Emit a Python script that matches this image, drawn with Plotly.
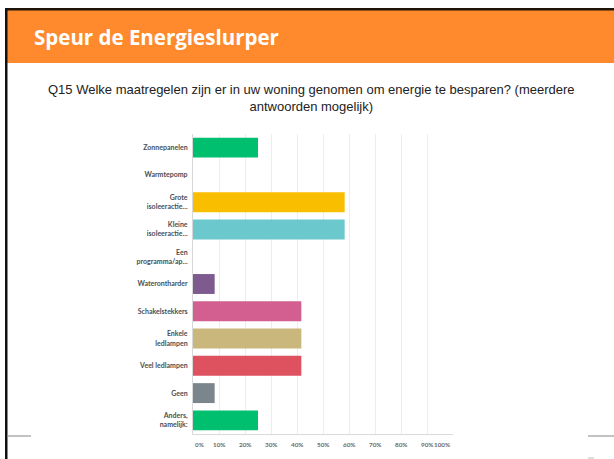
import plotly.graph_objects as go

categories = ["Zonnepanelen", "Warmtepomp", "Grote<br>isoleeractie...", "Kleine<br>isoleeractie...",
              "Een<br>programma/ap...", "Waterontharder", "Schakelstekkers", "Enkele<br>ledlampen",
              "Veel ledlampen", "Geen", "Anders,<br>namelijk:"]
values = [25.0, 0.0, 58.33, 58.33, 0.0, 8.33, 41.67, 41.67, 41.67, 8.33, 25.0]
colors = ["#00BF6F", "#F05B24", "#F9BE00", "#6BC8CD", "#FF8B4F", "#7D5B8F",
          "#D25F90", "#C9B77B", "#DE5260", "#7B868C", "#00BF6F"]
tick_vals = [0, 10, 20, 30, 40, 50, 60, 70, 80, 90, 100]
tick_text = ["0%", "10%", "20%", "30%", "40%", "50%", "60%", "70%", "80%", "90%", "100%"]
header_title = "Speur de Energieslurper"
question = "Q15 Welke maatregelen zijn er in uw woning genomen om energie te besparen? (meerdere<br>antwoorden mogelijk)"

W, H = 614, 459
L, R, T, B = 193, 453, 134, 434

def px(x):
    return (x - L) / (R - L)

def py(y):
    return (B - y) / (B - T)

fig = go.Figure(go.Bar(
    x=values, y=categories, orientation="h",
    marker=dict(color=colors, line=dict(width=0)),
    hoverinfo="skip",
))

shapes = [
    dict(type="rect", xref="paper", yref="paper", x0=px(6), x1=px(614), y0=py(63), y1=py(9),
         fillcolor="#FF8A2E", line=dict(width=0), layer="below"),
    dict(type="rect", xref="paper", yref="paper", x0=px(5), x1=px(614), y0=py(10.5), y1=py(8),
         fillcolor="#1E1408", line=dict(width=0)),
    dict(type="rect", xref="paper", yref="paper", x0=px(5), x1=px(7.5), y0=py(459), y1=py(8),
         fillcolor="#111111", line=dict(width=0)),
    dict(type="line", xref="paper", yref="paper", x0=px(7), x1=px(31), y0=py(436), y1=py(436),
         line=dict(color="#9A9A9A", width=1.2)),
    dict(type="line", xref="paper", yref="paper", x0=px(588), x1=px(614), y0=py(436), y1=py(436),
         line=dict(color="#9A9A9A", width=1.2)),
    dict(type="line", xref="paper", yref="paper", x0=px(588), x1=px(594), y0=py(458), y1=py(458),
         line=dict(color="#BBBBBB", width=1)),
]

annotations = [
    dict(text="<b>" + header_title + "</b>", xref="paper", yref="paper", x=px(32), y=py(37),
         xanchor="left", yanchor="middle", showarrow=False,
         font=dict(family="Open Sans", size=20.5, color="white")),
    dict(text=question, xref="paper", yref="paper", x=px(311), y=py(98),
         xanchor="center", yanchor="middle", showarrow=False, align="center",
         font=dict(family="Liberation Sans, Arial", size=13, color="#222222")),
]
for v, t in zip(tick_vals, tick_text):
    anchor = "left" if v == 0 else ("right" if v == 100 else "center")
    xx = v if v not in (0, 100) else (v - 0.2 if v == 100 else v)
    annotations.append(dict(text=t, xref="x", yref="paper", x=xx, y=py(444),
                            xanchor=anchor, yanchor="middle", showarrow=False,
                            font=dict(family="Lato", size=6.3, color="#6A6A6A", weight="bold")))

fig.update_layout(
    width=W, height=H,
    margin=dict(l=L, r=W - R, t=T, b=H - B, pad=0),
    paper_bgcolor="white", plot_bgcolor="white",
    bargap=0.27,
    showlegend=False,
    shapes=shapes,
    annotations=annotations,
    xaxis=dict(range=[0, 100], tickvals=tick_vals, showticklabels=False,
               showgrid=True, gridcolor="#EDEDED", gridwidth=1,
               zeroline=False, showline=True, linecolor="#DADADA", linewidth=1,
               fixedrange=True),
    yaxis=dict(autorange="reversed", showgrid=False, zeroline=False,
               showline=True, linecolor="#D8D8D8", linewidth=1,
               ticks="", ticklabelstandoff=3,
               tickfont=dict(family="Lato", size=7, color="#4A4F55", weight="bold"),
               fixedrange=True),
)

fig.write_html("out.html", config={"displayModeBar": False},
               post_script="document.body.style.margin='0';document.body.style.overflow='hidden';")
